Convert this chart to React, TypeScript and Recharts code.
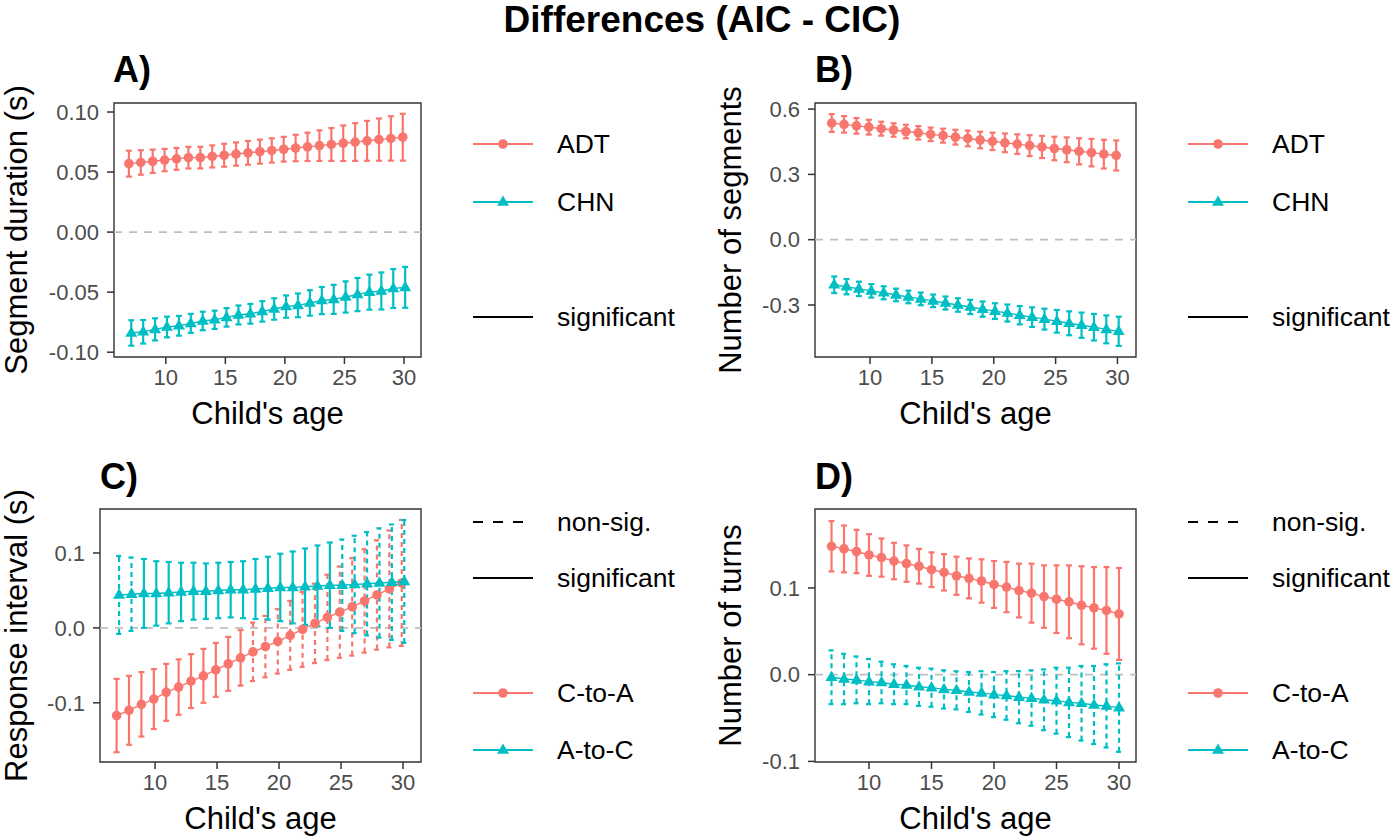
import React from "react";
import { ScatterChart, Scatter, XAxis, YAxis, ErrorBar, ReferenceLine, ReferenceArea, Legend } from "recharts";

const RED = "#F8766D";
const TEAL = "#00BFC4";
const FONT = '"Liberation Sans", Arial, Helvetica, sans-serif';

// x: child's age
const ages = [7, 8, 9, 10, 11, 12, 13, 14, 15, 16, 17, 18, 19, 20, 21, 22, 23, 24, 25, 26, 27, 28, 29, 30];
const ageTicks = [10, 15, 20, 25, 30];

const speakerGroups = ["ADT", "CHN"];
const directionGroups = ["C-to-A", "A-to-C"];
const sigLabels = ["non-sig.", "significant"];

// A) segment duration (s)
const durTicks = [-0.1, -0.05, 0, 0.05, 0.1];
const durAdtMean = [0.057, 0.058, 0.059, 0.060, 0.061, 0.062, 0.062, 0.063, 0.064, 0.065, 0.066, 0.067, 0.068, 0.069, 0.070, 0.071, 0.072, 0.073, 0.074, 0.075, 0.076, 0.077, 0.078, 0.079];
const durAdtCi = [0.0108, 0.0102, 0.0097, 0.0093, 0.0091, 0.0090, 0.0090, 0.0092, 0.0095, 0.0097, 0.0099, 0.0100, 0.0101, 0.0103, 0.0110, 0.0118, 0.0127, 0.0137, 0.0148, 0.0157, 0.0166, 0.0176, 0.0185, 0.0195];
const durChnMean = [-0.084, -0.083, -0.081, -0.079, -0.078, -0.076, -0.074, -0.073, -0.071, -0.069, -0.068, -0.066, -0.064, -0.062, -0.061, -0.059, -0.057, -0.056, -0.054, -0.052, -0.050, -0.049, -0.047, -0.046];
const durChnCi = [0.0106, 0.0098, 0.0092, 0.0086, 0.0082, 0.0079, 0.0077, 0.0076, 0.0077, 0.0079, 0.0082, 0.0085, 0.0089, 0.0093, 0.0099, 0.0106, 0.0113, 0.0121, 0.0130, 0.0138, 0.0146, 0.0154, 0.0162, 0.0170];

// B) number of segments
const segTicks = [-0.3, 0, 0.3, 0.6];
const segAdtMean = [0.536, 0.530, 0.523, 0.517, 0.510, 0.504, 0.497, 0.491, 0.484, 0.478, 0.471, 0.465, 0.458, 0.452, 0.445, 0.439, 0.432, 0.426, 0.419, 0.413, 0.406, 0.400, 0.393, 0.387];
const segAdtCi = [0.041, 0.038, 0.036, 0.034, 0.032, 0.031, 0.031, 0.031, 0.031, 0.032, 0.034, 0.036, 0.038, 0.040, 0.043, 0.045, 0.048, 0.051, 0.054, 0.057, 0.060, 0.063, 0.066, 0.069];
const segChnMean = [-0.207, -0.216, -0.226, -0.235, -0.244, -0.254, -0.263, -0.272, -0.281, -0.291, -0.300, -0.309, -0.319, -0.328, -0.337, -0.347, -0.356, -0.365, -0.375, -0.384, -0.393, -0.402, -0.412, -0.421];
const segChnCi = [0.038, 0.035, 0.033, 0.031, 0.030, 0.029, 0.029, 0.029, 0.029, 0.030, 0.031, 0.033, 0.035, 0.036, 0.039, 0.042, 0.045, 0.048, 0.052, 0.055, 0.058, 0.061, 0.064, 0.067];

// C) response interval (s); sig: 1 = significant, 0 = non-sig.
const riTicks = [-0.1, 0, 0.1];
const riCtaMean = [-0.117, -0.110, -0.102, -0.095, -0.086, -0.079, -0.071, -0.064, -0.056, -0.048, -0.040, -0.032, -0.025, -0.018, -0.010, -0.002, 0.006, 0.014, 0.021, 0.028, 0.036, 0.044, 0.052, 0.060];
const riCtaCi = [0.049, 0.046, 0.043, 0.040, 0.038, 0.037, 0.036, 0.036, 0.036, 0.036, 0.037, 0.039, 0.041, 0.043, 0.046, 0.050, 0.053, 0.057, 0.061, 0.065, 0.069, 0.073, 0.078, 0.084];
const riCtaSig = [1, 1, 1, 1, 1, 1, 1, 1, 1, 1, 1, 0, 0, 0, 0, 0, 0, 0, 0, 0, 0, 0, 0, 0];
const riAtcMean = [0.044, 0.045, 0.046, 0.046, 0.047, 0.048, 0.049, 0.049, 0.050, 0.051, 0.051, 0.052, 0.053, 0.054, 0.054, 0.055, 0.056, 0.057, 0.057, 0.058, 0.059, 0.060, 0.061, 0.062];
const riAtcCi = [0.052, 0.049, 0.046, 0.043, 0.041, 0.039, 0.038, 0.037, 0.037, 0.037, 0.038, 0.040, 0.042, 0.045, 0.048, 0.051, 0.054, 0.057, 0.061, 0.065, 0.069, 0.073, 0.077, 0.082];
const riAtcSig = [0, 0, 1, 1, 1, 1, 1, 1, 1, 1, 1, 1, 1, 1, 1, 1, 1, 1, 0, 0, 0, 0, 0, 0];

// D) number of turns
const turnTicks = [-0.1, 0, 0.1];
const turnCtaMean = [0.148, 0.145, 0.142, 0.138, 0.135, 0.131, 0.128, 0.125, 0.121, 0.118, 0.114, 0.111, 0.108, 0.104, 0.101, 0.097, 0.094, 0.090, 0.087, 0.084, 0.080, 0.077, 0.074, 0.070];
const turnCtaCi = [0.029, 0.027, 0.025, 0.024, 0.022, 0.021, 0.021, 0.020, 0.020, 0.021, 0.022, 0.023, 0.025, 0.027, 0.029, 0.031, 0.034, 0.036, 0.039, 0.042, 0.045, 0.047, 0.050, 0.053];
const turnCtaSig = [1, 1, 1, 1, 1, 1, 1, 1, 1, 1, 1, 1, 1, 1, 1, 1, 1, 1, 1, 1, 1, 1, 1, 1];
const turnAtcMean = [-0.003, -0.005, -0.006, -0.008, -0.009, -0.011, -0.012, -0.014, -0.015, -0.017, -0.018, -0.020, -0.021, -0.023, -0.024, -0.026, -0.027, -0.029, -0.030, -0.032, -0.033, -0.035, -0.036, -0.038];
const turnAtcCi = [0.031, 0.029, 0.027, 0.026, 0.024, 0.023, 0.022, 0.022, 0.022, 0.022, 0.022, 0.023, 0.025, 0.026, 0.028, 0.030, 0.032, 0.035, 0.038, 0.040, 0.043, 0.045, 0.048, 0.051];
const turnAtcSig = [0, 0, 0, 0, 0, 0, 0, 0, 0, 0, 0, 0, 0, 0, 0, 0, 0, 0, 0, 0, 0, 0, 0, 0];

type Row = { x: number; y: number; sig: number | null; non: number | null };

// dodge: small horizontal shift per group, like position_dodge
function buildRows(mean: number[], ci: number[], sig: number[] | null, shift: number): Row[] {
  return ages.map((a, i) => {
    const s = sig ? sig[i] === 1 : true;
    return { x: a + shift, y: mean[i], sig: s ? ci[i] : null, non: s ? null : ci[i] };
  });
}

type MarkerKind = "circle" | "triangle";

function Marker({ kind, cx, cy, color }: { kind: MarkerKind; cx: number; cy: number; color: string }) {
  if (kind === "circle") return <circle cx={cx} cy={cy} r={4.8} fill={color} />;
  return <polygon points={`${cx},${cy - 6.6} ${cx + 6},${cy + 3.8} ${cx - 6},${cy + 3.8}`} fill={color} />;
}

interface SeriesDef {
  name: string;
  color: string;
  marker: MarkerKind;
  rows: Row[];
}

type LegendRow =
  | { dy: number; kind: "series"; color: string; marker: MarkerKind; label: string }
  | { dy: number; kind: "line"; dashed: boolean; label: string };

interface PanelDef {
  tag: string;
  left: number;
  width: number;
  plot: { l: number; t: number; r: number; b: number };
  xDomain: [number, number];
  yDomain: [number, number];
  yTicks: number[];
  digits: number;
  yTitle: string;
  yTitleX: number;
  series: SeriesDef[];
  legend: { x: number; y: number; rows: LegendRow[] };
}

function LegendBox({ rows }: { rows: LegendRow[] }) {
  return (
    <svg width={230} height={270} style={{ display: "block" }}>
      {rows.map((r, i) => {
        const y = r.dy + 20;
        return (
          <g key={i}>
            {r.kind === "series" ? (
              <>
                <line x1={0} x2={60} y1={y} y2={y} stroke={r.color} strokeWidth={2.2} />
                <Marker kind={r.marker} cx={30} cy={y} color={r.color} />
              </>
            ) : (
              <line x1={0} x2={60} y1={y} y2={y} stroke="#000" strokeWidth={2.2} strokeDasharray={r.dashed ? "10 10" : undefined} />
            )}
            <text x={84} y={y} dominantBaseline="central" fontSize={26.5} fontFamily={FONT} fill="#000">
              {r.label}
            </text>
          </g>
        );
      })}
    </svg>
  );
}

const tickStyle = { fill: "#4D4D4D", fontSize: 22, fontFamily: FONT };
const tickLine = { stroke: "#333333", strokeWidth: 1.5 };

function Panel({ p }: { p: PanelDef }) {
  const mTop = 40;
  const xH = 75;
  const yW = p.plot.l - p.left;
  const plotW = p.plot.r - p.plot.l;
  const plotH = p.plot.b - p.plot.t;
  const height = mTop + plotH + xH;
  const right = p.width - (p.plot.r - p.left);
  const top = p.plot.t - mTop;
  return (
    <div style={{ position: "absolute", left: p.left, top }}>
      <ScatterChart width={p.width} height={height} margin={{ top: mTop, right, left: 0, bottom: 0 }}>
        <XAxis
          type="number"
          dataKey="x"
          domain={p.xDomain}
          ticks={ageTicks}
          interval={0}
          allowDataOverflow
          axisLine={false}
          tickLine={tickLine}
          tickSize={7}
          tickMargin={5}
          tick={tickStyle}
          height={xH}
          label={{
            content: () => (
              <text x={yW + plotW / 2} y={mTop + plotH + 56} textAnchor="middle" dominantBaseline="central" fontSize={31} fontFamily={FONT} fill="#000">
                Child's age
              </text>
            ),
          }}
        />
        <YAxis
          type="number"
          dataKey="y"
          domain={p.yDomain}
          ticks={p.yTicks}
          interval={0}
          allowDataOverflow
          axisLine={false}
          tickLine={tickLine}
          tickSize={7}
          tickMargin={8}
          tick={tickStyle}
          width={yW}
          tickFormatter={(v: number) => v.toFixed(p.digits)}
          label={{
            content: () => {
              const cy = mTop + plotH / 2;
              return (
                <text x={p.yTitleX} y={cy} transform={`rotate(-90, ${p.yTitleX}, ${cy})`} textAnchor="middle" dominantBaseline="central" fontSize={31} fontFamily={FONT} fill="#000">
                  {p.yTitle}
                </text>
              );
            },
          }}
        />
        <ReferenceLine y={0} stroke="#BEBEBE" strokeWidth={1.8} strokeDasharray="8 7" ifOverflow="hidden" />
        {p.series.map((s) => (
          <Scatter
            key={s.name}
            name={s.name}
            data={s.rows}
            isAnimationActive={false}
            line={{ stroke: s.color, strokeWidth: 1.4 }}
            lineType="joint"
            shape={(props: any) => <Marker kind={s.marker} cx={props.cx} cy={props.cy} color={s.color} />}
          >
            <ErrorBar dataKey="sig" direction="y" width={3} stroke={s.color} strokeWidth={2.2} isAnimationActive={false} />
            <ErrorBar dataKey="non" direction="y" width={3} stroke={s.color} strokeWidth={2.2} strokeDasharray="5 4" isAnimationActive={false} />
          </Scatter>
        ))}
        <ReferenceArea
          x1={p.xDomain[0]}
          x2={p.xDomain[1]}
          y1={p.yDomain[0]}
          y2={p.yDomain[1]}
          fill="none"
          fillOpacity={0}
          stroke="#333333"
          strokeWidth={1.4}
          ifOverflow="visible"
        />
        <Legend
          layout="vertical"
          align="center"
          verticalAlign="middle"
          wrapperStyle={{ left: p.legend.x - p.left, top: p.legend.y - 20 - top, width: 230 }}
          content={() => <LegendBox rows={p.legend.rows} />}
        />
      </ScatterChart>
    </div>
  );
}

const speakerLegend = (x: number, y: number) => ({
  x,
  y,
  rows: [
    { dy: 0, kind: "series", color: RED, marker: "circle", label: speakerGroups[0] },
    { dy: 58, kind: "series", color: TEAL, marker: "triangle", label: speakerGroups[1] },
    { dy: 173, kind: "line", dashed: false, label: sigLabels[1] },
  ] as LegendRow[],
});

const directionLegend = (x: number, y: number) => ({
  x,
  y,
  rows: [
    { dy: 0, kind: "line", dashed: true, label: sigLabels[0] },
    { dy: 56, kind: "line", dashed: false, label: sigLabels[1] },
    { dy: 171, kind: "series", color: RED, marker: "circle", label: directionGroups[0] },
    { dy: 228, kind: "series", color: TEAL, marker: "triangle", label: directionGroups[1] },
  ] as LegendRow[],
});

const panels: PanelDef[] = [
  {
    tag: "A)",
    left: 0,
    width: 690,
    plot: { l: 114, t: 103, r: 421, b: 357 },
    xDomain: [5.65, 31.43],
    yDomain: [-0.104, 0.1075],
    yTicks: durTicks,
    digits: 2,
    yTitle: "Segment duration (s)",
    yTitleX: 16,
    series: [
      { name: speakerGroups[0], color: RED, marker: "circle", rows: buildRows(durAdtMean, durAdtCi, null, -0.1) },
      { name: speakerGroups[1], color: TEAL, marker: "triangle", rows: buildRows(durChnMean, durChnCi, null, 0.1) },
    ],
    legend: speakerLegend(473, 144),
  },
  {
    tag: "B)",
    left: 700,
    width: 691,
    plot: { l: 815, t: 103, r: 1136, b: 357 },
    xDomain: [5.55, 31.5],
    yDomain: [-0.539, 0.628],
    yTicks: segTicks,
    digits: 1,
    yTitle: "Number of segments",
    yTitleX: 30,
    series: [
      { name: speakerGroups[0], color: RED, marker: "circle", rows: buildRows(segAdtMean, segAdtCi, null, -0.1) },
      { name: speakerGroups[1], color: TEAL, marker: "triangle", rows: buildRows(segChnMean, segChnCi, null, 0.1) },
    ],
    legend: speakerLegend(1188, 144),
  },
  {
    tag: "C)",
    left: 0,
    width: 690,
    plot: { l: 100, t: 509, r: 421, b: 762 },
    xDomain: [5.56, 31.45],
    yDomain: [-0.179, 0.1587],
    yTicks: riTicks,
    digits: 1,
    yTitle: "Response interval (s)",
    yTitleX: 16,
    series: [
      { name: directionGroups[0], color: RED, marker: "circle", rows: buildRows(riCtaMean, riCtaCi, riCtaSig, -0.1) },
      { name: directionGroups[1], color: TEAL, marker: "triangle", rows: buildRows(riAtcMean, riAtcCi, riAtcSig, 0.1) },
    ],
    legend: directionLegend(473, 522),
  },
  {
    tag: "D)",
    left: 700,
    width: 691,
    plot: { l: 815, t: 509, r: 1136, b: 762 },
    xDomain: [5.68, 31.36],
    yDomain: [-0.1007, 0.191],
    yTicks: turnTicks,
    digits: 1,
    yTitle: "Number of turns",
    yTitleX: 30,
    series: [
      { name: directionGroups[0], color: RED, marker: "circle", rows: buildRows(turnCtaMean, turnCtaCi, turnCtaSig, 0) },
      { name: directionGroups[1], color: TEAL, marker: "triangle", rows: buildRows(turnAtcMean, turnAtcCi, turnAtcSig, 0) },
    ],
    legend: directionLegend(1188, 522),
  },
];

const tagPos: Record<string, [number, number]> = {
  "A)": [113, 82],
  "B)": [815, 82],
  "C)": [100, 489],
  "D)": [815, 489],
};

export default function App() {
  return (
    <div style={{ position: "absolute", left: 0, top: 0, width: 1391, height: 838, background: "#fff", fontFamily: FONT }}>
      <svg width={1391} height={838} style={{ position: "absolute", left: 0, top: 0 }}>
        <text x={702} y={32} textAnchor="middle" fontSize={37} fontWeight="bold" fontFamily={FONT} fill="#000">
          Differences (AIC - CIC)
        </text>
        {panels.map((p) => (
          <text key={p.tag} x={tagPos[p.tag][0]} y={tagPos[p.tag][1]} fontSize={36} fontWeight="bold" fontFamily={FONT} fill="#000">
            {p.tag}
          </text>
        ))}
      </svg>
      {panels.map((p) => (
        <Panel key={p.tag} p={p} />
      ))}
    </div>
  );
}
